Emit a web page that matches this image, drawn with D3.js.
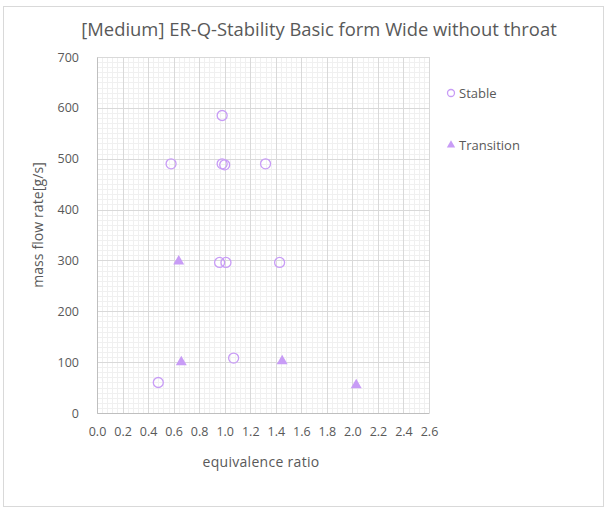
<!DOCTYPE html>
<html>
<head>
<meta charset="utf-8">
<script src="https://cdn.jsdelivr.net/npm/d3@7"></script>
<style>
  body { margin: 0; background: #fff; }
  svg { font-family: "Open Sans", Lato, sans-serif; }
</style>
</head>
<body>
<div id="chart"></div>
<script>
// Series data: [equivalence ratio, mass flow rate g/s]
const stablePoints = [
    [0.58, 490], [0.98, 585], [0.98, 490], [1.0, 488], [1.32, 490],
    [0.96, 296], [1.01, 296], [1.43, 296], [1.07, 108], [0.48, 60]
];
const transitionPoints = [
    [0.64, 298], [0.66, 100], [1.45, 102], [2.03, 55]
];
const xTicks = d3.range(0, 2.61, 0.2);
const yTicks = d3.range(0, 701, 100);
const legendItems = ['Stable', 'Transition'];

const width = 604, height = 507;
const margin = {top: 57, right: 175, bottom: 94, left: 97};
const color = '#c89cf6';
const textColor = '#595959';

const svg = d3.select('#chart').append('svg')
    .attr('width', width)
    .attr('height', height);

// outer frame
svg.append('rect')
    .attr('x', 3.5).attr('y', 6.5)
    .attr('width', width - 4).attr('height', height - 7)
    .attr('fill', 'none')
    .attr('stroke', '#d9d9d9');

const chartW = width - margin.left - margin.right;
const chartH = height - margin.top - margin.bottom;

const x = d3.scaleLinear([0, 2.6], [0, chartW]);
const y = d3.scaleLinear([0, 700], [chartH, 0]);

const chart = svg.append('g')
    .attr('transform', `translate(${margin.left},${margin.top})`);

// minor grid
const minorX = d3.range(0, 2.601, 0.04);
const minorY = d3.range(0, 701, 10);
chart.append('g').selectAll('line')
    .data(minorX)
    .join('line')
    .attr('x1', d => Math.round(x(d)) + 0.5).attr('x2', d => Math.round(x(d)) + 0.5)
    .attr('y1', 0).attr('y2', chartH)
    .attr('stroke', '#f0f0f0');
chart.append('g').selectAll('line')
    .data(minorY)
    .join('line')
    .attr('y1', d => Math.round(y(d)) + 0.5).attr('y2', d => Math.round(y(d)) + 0.5)
    .attr('x1', 0).attr('x2', chartW)
    .attr('stroke', '#f0f0f0');

// major grid
chart.append('g').selectAll('line')
    .data(xTicks)
    .join('line')
    .attr('x1', d => Math.round(x(d)) + 0.5).attr('x2', d => Math.round(x(d)) + 0.5)
    .attr('y1', 0).attr('y2', chartH)
    .attr('stroke', '#d9d9d9');
chart.append('g').selectAll('line')
    .data(yTicks)
    .join('line')
    .attr('y1', d => Math.round(y(d)) + 0.5).attr('y2', d => Math.round(y(d)) + 0.5)
    .attr('x1', 0).attr('x2', chartW)
    .attr('stroke', '#d9d9d9');

// axes
const axisX = chart.append('g')
    .attr('transform', `translate(0,${chartH})`)
    .call(d3.axisBottom(x).tickValues(xTicks).tickFormat(d3.format('.1f')).tickSize(0).tickPadding(14));
const axisY = chart.append('g')
    .call(d3.axisLeft(y).tickValues(yTicks).tickSize(0).tickPadding(18));
[axisX, axisY].forEach(a => {
    a.select('.domain').attr('stroke', '#bfbfbf');
    a.selectAll('text').attr('fill', textColor).style('font-size', '12.5px')
        .style('font-family', '"Open Sans", sans-serif');
});

// points
chart.append('g').selectAll('circle')
    .data(stablePoints)
    .join('circle')
    .attr('cx', d => x(d[0]))
    .attr('cy', d => y(d[1]))
    .attr('r', 5)
    .attr('fill', 'none')
    .attr('stroke', color)
    .attr('stroke-width', 1.3);

const tri = d3.symbol(d3.symbolTriangle, 52);
chart.append('g').selectAll('path')
    .data(transitionPoints)
    .join('path')
    .attr('transform', d => `translate(${x(d[0])},${y(d[1])})`)
    .attr('d', tri)
    .attr('fill', color);

// title and labels
svg.append('text')
    .attr('x', 319).attr('y', 36)
    .attr('text-anchor', 'middle')
    .attr('fill', textColor)
    .style('font-size', '18.4px')
    .text('[Medium]  ER-Q-Stability Basic form Wide without throat');

svg.append('text')
    .attr('x', 261).attr('y', 467)
    .attr('text-anchor', 'middle')
    .attr('fill', textColor)
    .style('font-size', '14px')
    .style('letter-spacing', '0.3px')
    .text('equivalence ratio');

svg.append('text')
    .attr('transform', 'rotate(-90)')
    .attr('x', -225).attr('y', 43)
    .attr('text-anchor', 'middle')
    .attr('fill', textColor)
    .style('font-size', '14px')
    .style('letter-spacing', '0.1px')
    .text('mass flow rate[g/s]');

// legend
const legend = svg.append('g');
legendItems.forEach((name, i) => {
    const g = legend.append('g')
        .attr('transform', `translate(451,${93 + i * 52})`);
    if (i === 0) {
        g.append('circle').attr('r', 3.5).attr('fill', 'none')
            .attr('stroke', color).attr('stroke-width', 1.3);
    } else {
        g.append('path').attr('d', d3.symbol(d3.symbolTriangle, 30)).attr('fill', color);
    }
    g.append('text')
        .attr('x', 8).attr('y', 4.5)
        .attr('fill', textColor)
        .style('font-size', '13px')
        .text(name);
});
</script>
</body>
</html>
